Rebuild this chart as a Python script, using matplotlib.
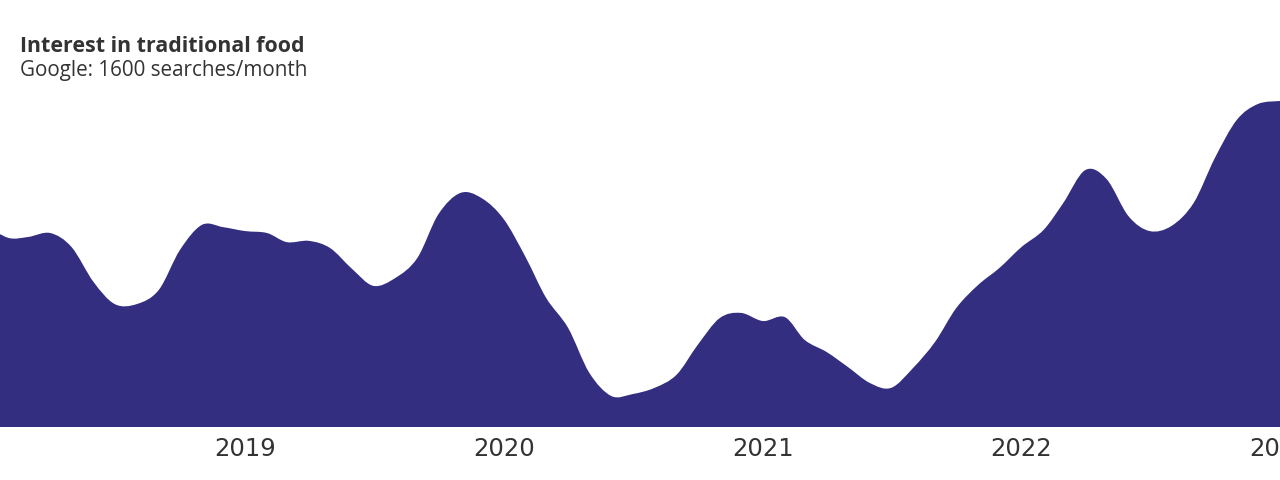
import numpy as np
import pandas as pd
import matplotlib
matplotlib.use("Agg")
import matplotlib.pyplot as plt
import matplotlib.dates as mdates
from matplotlib.path import Path
from matplotlib.patches import PathPatch

# monthly search interest, index (peak = 100)
months = pd.date_range("2018-01-01", "2023-01-01", freq="MS")
interest = [61.7, 58.0, 58.3, 59.5, 55.2, 44.5, 37.7, 37.7, 42.0, 54.3,
            62.0, 61.3, 60.1, 59.5, 56.7, 57.1, 54.9, 48.5, 43.3, 45.7,
            51.8, 65.3, 71.8, 70.2, 63.8, 52.1, 39.6, 30.4, 16.6, 9.5,
            10.1, 12.0, 16.0, 25.2, 33.4, 35.0, 32.5, 33.7, 26.7, 23.0,
            18.4, 13.5, 12.0, 18.1, 26.1, 36.5, 43.6, 48.8, 55.2, 60.4,
            68.7, 78.8, 76.1, 64.7, 60.1, 61.7, 68.7, 82.5, 94.2, 99.1,
            100.0]
year_ticks = ["2019", "2020", "2021", "2022", "2023"]

fill_color = "#332e80"
text_color = "#333333"

x = mdates.date2num(months)
y = np.array(interest)

# smooth curve: catmull-rom segments as cubic beziers
pts = np.column_stack([x, y])
ext = np.vstack([pts[0], pts, pts[-1]])
verts = [tuple(pts[0])]
codes = [Path.MOVETO]
for i in range(len(pts) - 1):
    p0, p1, p2, p3 = ext[i], ext[i + 1], ext[i + 2], ext[i + 3]
    c1 = p1 + (p2 - p0) / 6
    c2 = p2 - (p3 - p1) / 6
    verts += [tuple(c1), tuple(c2), tuple(p2)]
    codes += [Path.CURVE4] * 3
verts += [(x[-1], 0), (x[0], 0), (x[0], y[0])]
codes += [Path.LINETO, Path.LINETO, Path.CLOSEPOLY]

fig = plt.figure(figsize=(12.8, 4.8), dpi=100)
ax = fig.add_axes([0, 1 - 427 / 480, 1, 326 / 480])
ax.add_patch(PathPatch(Path(verts, codes), facecolor=fill_color, edgecolor="none"))

x_left = mdates.date2num(pd.Timestamp("2018-01-20"))
ax.set_xlim(x_left, x[-1])
ax.set_ylim(0, 100)

ticks = [mdates.date2num(pd.Timestamp(f"{t}-01-01")) for t in year_ticks]
ax.set_xticks(ticks)
ax.set_xticklabels(year_ticks, fontsize=17.5, color=text_color, family="DejaVu Sans")
ax.tick_params(axis="x", length=0, pad=7)
ax.set_yticks([])
for s in ax.spines.values():
    s.set_visible(False)

fig.text(20 / 1280, 1 - 46 / 480, "Interest in traditional food", fontsize=15.4,
         fontweight="bold", color=text_color, family="Open Sans", va="center")
fig.text(20 / 1280, 1 - 70.5 / 480, "Google: 1600 searches/month", fontsize=14.9,
         color=text_color, family="Open Sans", va="center")

fig.savefig("out.png", dpi=100)
